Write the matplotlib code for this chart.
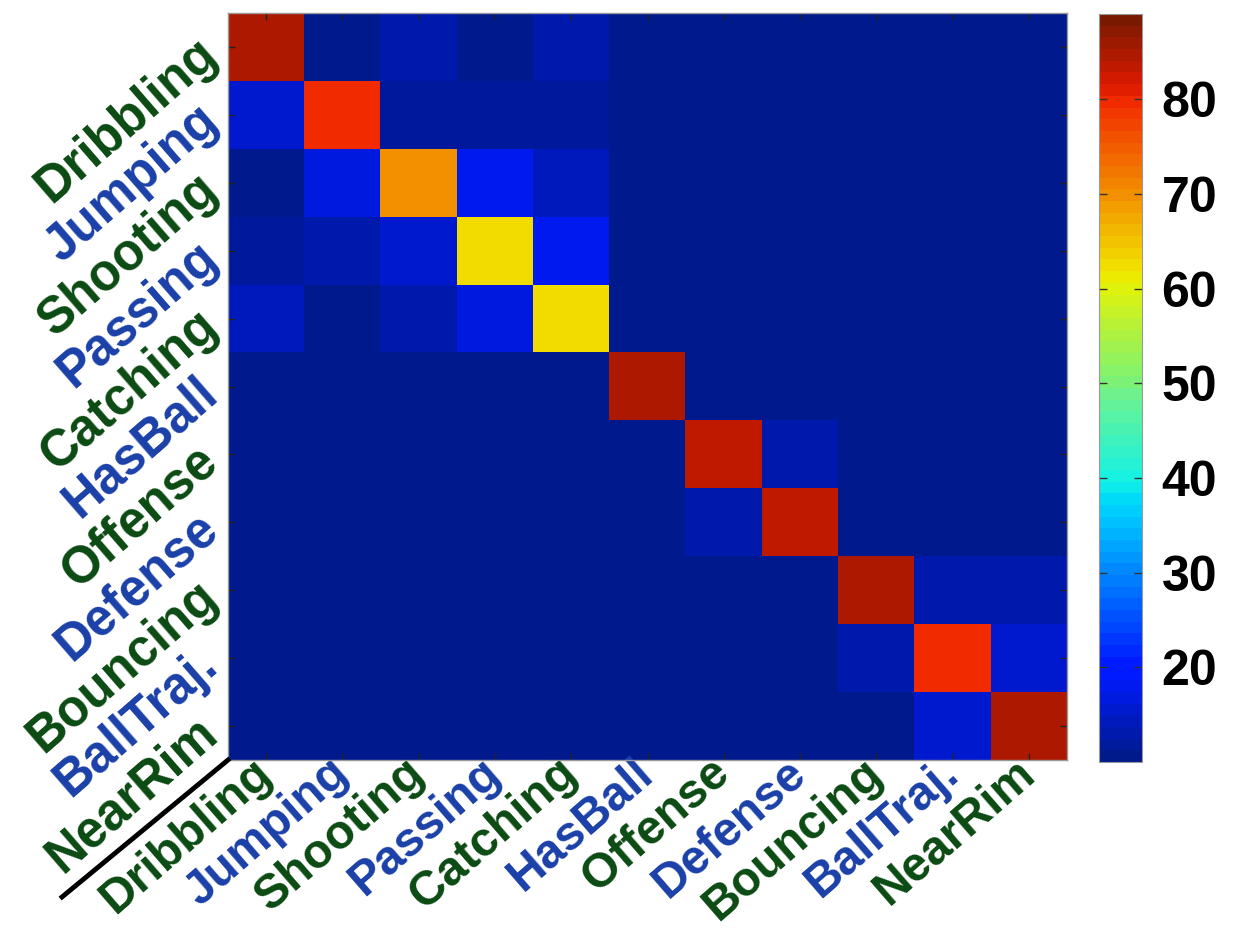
import numpy as np
import matplotlib
matplotlib.use("Agg")
import matplotlib.pyplot as plt
from matplotlib.lines import Line2D
from matplotlib.colors import ListedColormap

labels = ['Dribbling', 'Jumping', 'Shooting', 'Passing', 'Catching', 'HasBall',
          'Offense', 'Defense', 'Bouncing', 'BallTraj.', 'NearRim']
label_colors = ['#0b4a12', '#1a40a8'] * 6

values = np.array([
    [85.0, 11.0, 12.5, 10.5, 12.5, 11.0, 11.0, 11.0, 11.0, 11.0, 11.0],
    [15.0, 80.0, 12.0, 12.0, 12.0, 11.0, 11.0, 11.0, 11.0, 11.0, 11.0],
    [11.0, 17.0, 70.0, 17.5, 14.0, 11.0, 11.0, 11.0, 11.0, 11.0, 11.0],
    [12.0, 13.5, 16.0, 62.5, 18.0, 11.0, 11.0, 11.0, 11.0, 11.0, 11.0],
    [14.5, 11.0, 13.5, 17.0, 62.5, 11.0, 11.0, 11.0, 11.0, 11.0, 11.0],
    [11.0, 11.0, 11.0, 11.0, 11.0, 85.0, 11.0, 11.0, 11.0, 11.0, 11.0],
    [11.0, 11.0, 11.0, 11.0, 11.0, 11.0, 83.0, 12.5, 11.0, 11.0, 11.0],
    [11.0, 11.0, 11.0, 11.0, 11.0, 11.0, 12.5, 83.0, 11.0, 11.0, 11.0],
    [11.0, 11.0, 11.0, 11.0, 11.0, 11.0, 11.0, 11.0, 85.0, 12.5, 12.5],
    [11.0, 11.0, 11.0, 11.0, 11.0, 11.0, 11.0, 11.0, 12.5, 80.0, 15.0],
    [11.0, 11.0, 11.0, 11.0, 11.0, 11.0, 11.0, 11.0, 10.5, 15.0, 85.0],
])
cbar_ticks = [20, 30, 40, 50, 60, 70, 80]
clim = (10, 89)

# jet with 64 bands, toned like the reference rendering
base = plt.get_cmap('jet', 64)(np.linspace(0, 1, 64))
base[:, 0] = base[:, 0] * 0.95
base[:, 1] = np.clip(base[:, 1] * 0.85 + 0.1, 0, 1)
base[:32, 2] = np.clip(base[:32, 2] * 0.9 + 0.1, 0, 1)
cmap = ListedColormap(base)

plt.rcParams['font.family'] = ['Liberation Sans', 'DejaVu Sans']
plt.rcParams['font.weight'] = 'bold'

fig = plt.figure(figsize=(12.55, 9.32), dpi=100)
ax = fig.add_axes([228/1255, 1 - 760/932, (1067-228)/1255, (760-13)/932])
cax = fig.add_axes([1099/1255, 1 - 762/932, (1142-1099)/1255, (762-14)/932])

im = ax.imshow(values, cmap=cmap, vmin=clim[0], vmax=clim[1], aspect='auto',
               interpolation='nearest')

n = len(labels)
ax.set_xticks(range(n))
ax.set_yticks(range(n))
ax.set_xticklabels(labels, rotation=41, ha='right', va='center',
                   rotation_mode='anchor', fontsize=34.5, fontweight='bold')
ax.set_yticklabels(labels, rotation=41, ha='right', va='center',
                   rotation_mode='anchor', fontsize=36.5, fontweight='bold')
for t, c in zip(ax.get_xticklabels(), label_colors):
    t.set_color(c)
for t, c in zip(ax.get_yticklabels(), label_colors):
    t.set_color(c)
ax.tick_params(axis='both', direction='in', length=5, width=1, top=True, right=True,
               color='#222222')
ax.tick_params(axis='x', pad=5)
ax.tick_params(axis='y', pad=12)
for s in ax.spines.values():
    s.set_color('#999999')
    s.set_linewidth(1)

cb = fig.colorbar(im, cax=cax, ticks=cbar_ticks)
cb.ax.tick_params(direction='in', length=6, width=1, left=True, right=True,
                  labelsize=36, color='#333333', pad=14)
for t in cb.ax.get_yticklabels():
    t.set_fontweight('bold')
cb.outline.set_edgecolor('#999999')

fig.add_artist(Line2D([228/1255, 62/1255], [1 - 760/932, 1 - 897/932],
                      color='black', linewidth=3.5, transform=fig.transFigure))

fig.savefig('out.png', dpi=100)
